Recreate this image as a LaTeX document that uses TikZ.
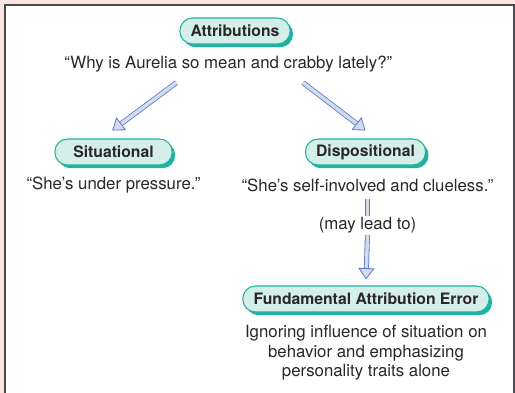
\documentclass[tikz,border=0pt]{standalone}
\usepackage{fontspec}
\setmainfont{TeX Gyre Heros}
\usetikzlibrary{arrows.meta,positioning,shadows}
\definecolor{pagepink}{HTML}{FCE6E2}
\definecolor{framegray}{HTML}{4A4A4C}
\definecolor{boxfill}{HTML}{D4EEE9}
\definecolor{boxteal}{HTML}{20B2A0}
\definecolor{arrowfill}{HTML}{D3DBF1}
\definecolor{arrowblue}{HTML}{5B79C2}
\definecolor{inkgray}{HTML}{2A2728}
\tikzset{
  pill/.style={draw=boxteal, fill=boxfill, line width=0.8pt, rounded corners=9.5pt,
    minimum height=19.5pt, inner xsep=8pt, font=\fontsize{11.8}{14}\selectfont\bfseries, text=inkgray,
    drop shadow={shadow xshift=2.2pt, shadow yshift=-2.4pt, fill=boxteal, opacity=1}},
  quote/.style={text=inkgray, inner sep=1pt},
  hollowarrow/.style={draw=arrowblue, double=arrowfill, double distance=2.6pt, line width=0.6pt,
    -{Triangle[length=8.5pt, width=12pt, line width=0.6pt, fill=arrowfill]}},
  hollowline/.style={draw=arrowblue, double=arrowfill, double distance=2.6pt, line width=0.6pt}
}
\begin{document}
\begin{tikzpicture}[x=0.75pt, y=-0.75pt, on grid, font=\fontsize{12.6}{14.6}\selectfont]
\useasboundingbox (0,0) rectangle (515,393);
\fill[pagepink] (0,0) rectangle (515,393);
\fill[white] (4.5,5) rectangle (514,393);
\draw[framegray, line width=1.5pt] (4.5,393) -- (4.5,5) -- (514,5) -- (514,393);

\node[pill] (attr) at (235,31) {Attributions};
\node[quote] (why)  [below=24.5pt of attr, xshift=-5pt] {“Why is Aurelia so mean and crabby lately?”};
\node[pill, minimum width=88pt] (sit) at (113.5,152) {Situational};
\node[pill] (disp)  at (365.5,152) {Dispositional};
\node[quote] (sitq)  [below=25pt of sit]  {“She’s under pressure.”};
\node[quote] (dispq) [below=25pt of disp, xshift=1.5pt] {“She’s self-involved and clueless.”};
\node[quote] (lead)  [below=30pt of dispq] {(may lead to)};
\node[pill] (fae)   at (366,299) {Fundamental Attribution Error};
\node[quote, align=center] (desc) [below=40.5pt of fae]
  {Ignoring influence of situation on\\behavior and emphasizing\\personality traits alone};

\draw[hollowarrow] ([xshift=-39pt,yshift=-7pt]why.south) -- ([shift={(-1pt,6pt)}]sit.north);
\draw[hollowarrow] ([xshift=56pt,yshift=-7pt]why.south) -- ([shift={(0pt,6pt)}]disp.north);
\draw[hollowline] (dispq) ++(0,-10.5pt) coordinate (leadtop) -- (lead.north);
\draw[hollowarrow] (lead.south) -- ([yshift=4.5pt]fae.north);
\end{tikzpicture}
\end{document}
